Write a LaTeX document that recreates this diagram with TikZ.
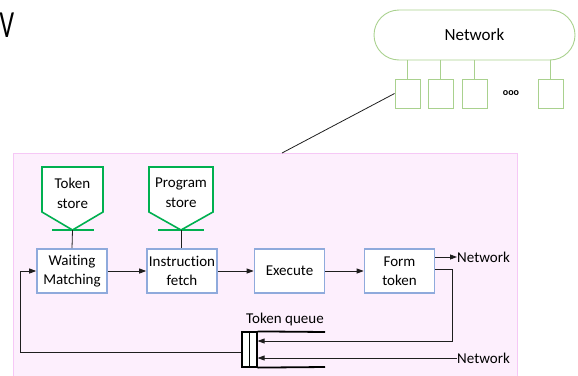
\documentclass[tikz,border=0pt]{standalone}
\usepackage{fontspec}
\setmainfont{Carlito}[Ligatures=NoCommon]
\usetikzlibrary{arrows.meta}
\definecolor{pinkfill}{RGB}{253,239,253}
\definecolor{pinkline}{RGB}{246,200,246}
\definecolor{cloudgreen}{RGB}{169,209,142}
\definecolor{storegreen}{RGB}{0,176,80}
\definecolor{boxblue}{RGB}{143,170,220}
\definecolor{wire}{RGB}{30,30,30}
\tikzset{
  pe box/.style={draw=boxblue, line width=1.6pt, fill=white, minimum width=70pt,
    minimum height=44pt, align=center, inner sep=0pt, font=\fontsize{15}{19}\selectfont},
  port/.style={draw=cloudgreen, line width=0.9pt, fill=white, minimum width=25pt,
    minimum height=29pt, inner sep=0pt},
  store/.style={draw=storegreen, line width=1.6pt, fill=white},
  storebar/.style={draw=storegreen, line width=1.8pt},
  lbl/.style={font=\fontsize{15}{20}\selectfont, align=center, inner sep=0pt},
  wireline/.style={draw=wire, line width=0.8pt},
  flow/.style={wireline, -{Triangle[length=7pt,width=5pt]}},
}
\begin{document}
\begin{tikzpicture}[x=1pt,y=-1pt]
\useasboundingbox (0,0) rectangle (578,375);

% partial heading letter at the top left
\node[font=\fontsize{32}{34}\selectfont, xscale=0.8, yscale=1.2, inner sep=0pt] (title) at (7,25) {V};

% network ring with its ports
\node[draw=cloudgreen, line width=0.9pt, rounded corners=25pt, minimum width=201pt,
  minimum height=50pt, inner sep=0pt, font=\fontsize{17}{20}\selectfont] (net) at (474.5,35) {Network};
\node[port] (p1) at (407.5,93.5) {};
\node[port] (p2) at (440.5,93.5) {};
\node[port] (p3) at (474.5,93.5) {};
\node[port] (p4) at (550.5,93.5) {};
\node[font=\fontsize{10}{12}\bfseries, inner sep=0pt] (dots) at (511,93) {ooo};
\foreach \p in {p1,p2,p3,p4}
  \draw[draw=cloudgreen, line width=0.9pt] (\p.north) -- (\p.north |- net.south);

% processing element enclosure
\draw[draw=pinkline, fill=pinkfill, line width=0.8pt] (13,153) rectangle (517,377);
\coordinate (pe) at (282,153);
\draw[wireline] (p1.west) -- (pe);

% token store and program store
\draw[store] (42,167) -- (103,167) -- (103,212) -- (72.5,230) -- (42,212) -- cycle;
\draw[storebar] (52,230) -- (94,230);
\node[lbl] (ts) at (72.5,193) {Token\\store};
\draw[store] (149,167) -- (213,167) -- (213,212) -- (181,230) -- (149,212) -- cycle;
\draw[storebar] (158,230) -- (204,230);
\node[lbl] (ps) at (181,193) {Program\\store};
\coordinate (tsbase) at (72.5,230);
\coordinate (psbase) at (181.5,230);

% pipeline stages
\node[pe box] (wm) at (72,271) {Waiting\\Matching};
\node[pe box] (if) at (182,271) {Instruction\\fetch};
\node[pe box] (ex) at (289.5,271) {Execute};
\node[pe box] (ft) at (399.5,271) {Form\\token};

\draw[wireline] (tsbase) -- (wm.north);
\draw[wireline] (psbase) -- (if.north -| psbase);

\draw[flow] (wm) -- (if);
\draw[flow] (if) -- (ex);
\draw[flow] (ex) -- (ft);

% outgoing tokens
\node[lbl, anchor=west] (netout) at (457,257) {Network};
\draw[flow] (ft.east |- netout) -- (netout.west);

% token queue
\node[draw=black, line width=1.2pt, fill=white, minimum width=15pt, minimum height=35pt,
  inner sep=0pt] (tq) at (249.5,349.5) {};
\draw[black, line width=1.2pt] (tq.north) -- (tq.south);
\draw[black, line width=1.8pt] (tq.north east) -- (325,332);
\draw[black, line width=1.8pt] (tq.south east) -- (325,367);
\node[lbl] (tqlabel) at (285,319) {Token queue};
\node[lbl, anchor=west] (netin) at (457,358) {Network};

\coordinate (fb1) at (452,269);
\coordinate (fb2) at (452,341);
\draw[flow] (ft.east |- fb1) -- (fb1) -- (fb2) -- (tq.east |- fb2);
\draw[flow] (netin.west) -- (tq.east |- netin.west);

\coordinate (rt1) at (20,352);
\coordinate (rt2) at (20,271);
\draw[flow] (tq.west |- rt1) -- (rt1) -- (rt2) -- (wm.west);
\end{tikzpicture}
\end{document}
